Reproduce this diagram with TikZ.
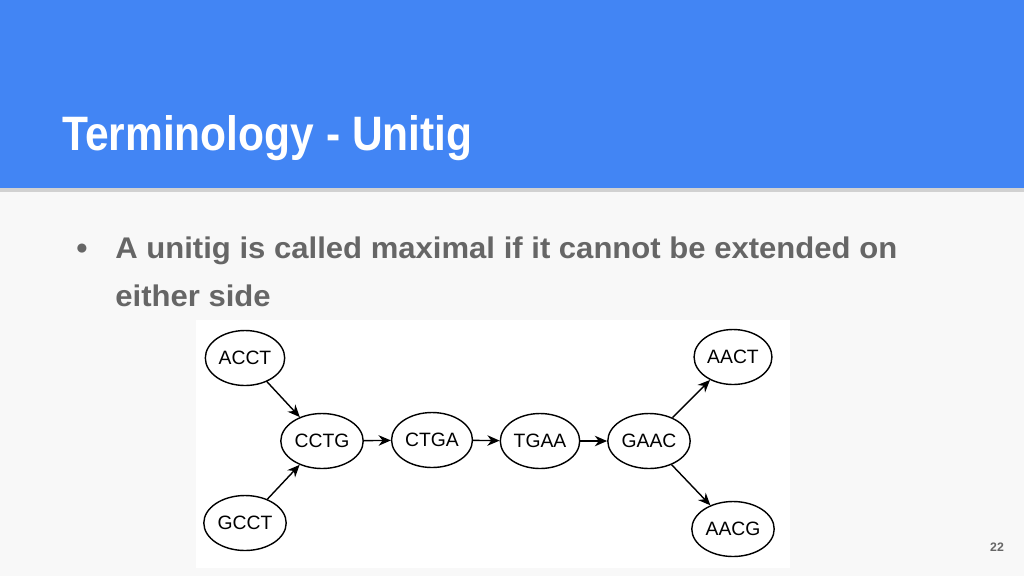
\documentclass[tikz,border=0pt]{standalone}
\usepackage{fontspec}
\setmainfont{Liberation Sans}
\newfontfamily\slidefont[FakeStretch=0.88]{Liberation Sans}
\newfontfamily\bodyfont[FakeStretch=1.04]{Liberation Sans}
\usetikzlibrary{shapes.geometric,arrows.meta}
\definecolor{headblue}{HTML}{4285F4}
\definecolor{slidebg}{HTML}{F8F8F8}
\definecolor{bodygray}{HTML}{666666}
\tikzset{kmer/.style={ellipse,draw,thick,minimum width=1.5cm,minimum height=1.1cm,inner sep=1pt,font=\fontsize{11}{13}\selectfont,fill=white},
  edge/.style={-{Stealth[length=7pt,width=6pt]},thick}}
\begin{document}
\begin{tikzpicture}[x=0.02cm,y=-0.02cm]
  \useasboundingbox (0,0) rectangle (1024,576);
  \fill[slidebg] (0,0) rectangle (1024,576);
  \fill[black!18] (0,188) rectangle (1024,192);
  \fill[headblue] (0,0) rectangle (1024,188);
  \node[anchor=base west,text=white,font=\slidefont\bfseries\fontsize{27.5}{30}\selectfont,inner sep=0] (title) at (62,150) {Terminology - Unitig};
  \node[text=bodygray,font=\fontsize{12}{14}\selectfont,inner sep=0] (dot) at (82,249) {●};
  \node[anchor=base west,text=bodygray,font=\bodyfont\bfseries\fontsize{17}{20}\selectfont,inner sep=0] (line1) at (115,258) {A unitig is called maximal if it cannot be extended on};
  \node[anchor=base west,text=bodygray,font=\bodyfont\bfseries\fontsize{17}{20}\selectfont,inner sep=0] (line2) at (115,306) {either side};
  \fill[white] (196,320) rectangle (790,568);
  % graph
  \node[kmer] (acct) at (245,358) {ACCT};
  \node[kmer] (gcct) at (245,523) {GCCT};
  \node[kmer] (cctg) at (322,441) {CCTG};
  \node[kmer] (ctga) at (432,440) {CTGA};
  \node[kmer] (tgaa) at (540,441) {TGAA};
  \node[kmer] (gaac) at (649,441) {GAAC};
  \node[kmer] (aact) at (733,357) {AACT};
  \node[kmer] (aacg) at (733,529) {AACG};
  \draw[edge] (acct) -- (cctg);
  \draw[edge] (gcct) -- (cctg);
  \draw[edge] (cctg) -- (ctga);
  \draw[edge] (ctga) -- (tgaa);
  \draw[edge] (tgaa) -- (gaac);
  \draw[edge] (gaac) -- (aact);
  \draw[edge] (gaac) -- (aacg);
  \node[text=bodygray,font=\bfseries\fontsize{7}{8}\selectfont] (page) at (997,547) {22};
\end{tikzpicture}
\end{document}
